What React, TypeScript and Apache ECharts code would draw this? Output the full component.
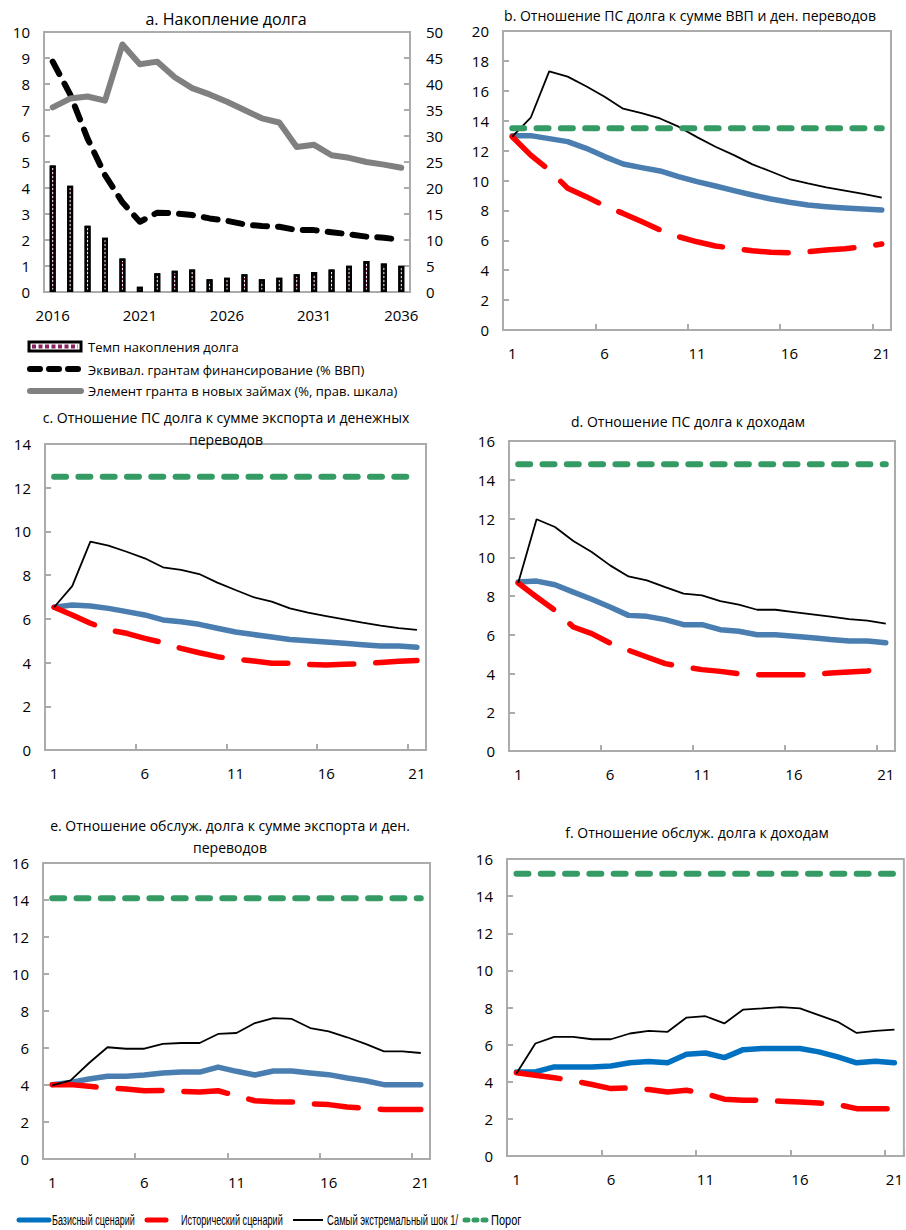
import React, { useEffect, useRef } from 'react';
import * as echarts from 'echarts';

// ---------- data ----------
const years = ['2016','2017','2018','2019','2020','2021','2022','2023','2024','2025','2026','2027','2028','2029','2030','2031','2032','2033','2034','2035','2036'];
const periods = ['1','2','3','4','5','6','7','8','9','10','11','12','13','14','15','16','17','18','19','20','21'];

// panel a
const debtAccumRate = [4.87, 4.09, 2.55, 2.09, 1.29, 0.2, 0.72, 0.82, 0.87, 0.49, 0.55, 0.68, 0.49, 0.55, 0.68, 0.77, 0.87, 1.01, 1.19, 1.1, 1.01];
const grantEquivFinancing = [8.86, 7.6, 5.9, 4.5, 3.45, 2.7, 3.05, 3.03, 2.96, 2.83, 2.74, 2.6, 2.54, 2.51, 2.38, 2.38, 2.3, 2.22, 2.13, 2.09, 2.0];
const grantElement = [35.5, 37.2, 37.6, 36.8, 47.6, 43.8, 44.3, 41.3, 39.2, 38.0, 36.6, 35.0, 33.4, 32.6, 27.9, 28.3, 26.3, 25.8, 25.0, 24.5, 23.9];

// panel b
const bBase = [13.0, 13.0, 12.8, 12.6, 12.15, 11.6, 11.1, 10.86, 10.64, 10.26, 9.92, 9.63, 9.32, 9.03, 8.76, 8.54, 8.36, 8.25, 8.16, 8.09, 8.03];
const bHist = [12.93, 11.7, 10.7, 9.48, 8.92, 8.3, 7.8, 7.25, 6.69, 6.24, 5.9, 5.62, 5.46, 5.3, 5.2, 5.17, 5.24, 5.35, 5.44, 5.57, 5.75];
const bShock = [12.93, 14.2, 17.3, 16.95, 16.3, 15.6, 14.8, 14.5, 14.15, 13.6, 12.9, 12.26, 11.7, 11.08, 10.6, 10.1, 9.8, 9.54, 9.32, 9.1, 8.85];
const bThreshold = 13.5;

// panel c
const cBase = [6.53, 6.63, 6.59, 6.48, 6.33, 6.18, 5.95, 5.87, 5.75, 5.57, 5.4, 5.28, 5.17, 5.06, 5.0, 4.94, 4.88, 4.82, 4.76, 4.76, 4.7];
const cHist = [6.53, 6.18, 5.8, 5.49, 5.34, 5.11, 4.91, 4.65, 4.45, 4.27, 4.15, 4.07, 3.97, 3.97, 3.92, 3.89, 3.92, 3.95, 4.0, 4.06, 4.1];
const cShock = [6.53, 7.5, 9.53, 9.35, 9.07, 8.77, 8.36, 8.24, 8.05, 7.66, 7.32, 6.99, 6.79, 6.48, 6.28, 6.13, 5.98, 5.83, 5.69, 5.58, 5.5];
const cThreshold = 12.5;

// panel d
const dBase = [8.72, 8.77, 8.58, 8.2, 7.83, 7.43, 7.0, 6.95, 6.78, 6.52, 6.52, 6.26, 6.18, 6.0, 6.0, 5.92, 5.85, 5.75, 5.68, 5.68, 5.59];
const dHist = [8.67, 7.95, 7.26, 6.4, 6.06, 5.57, 5.2, 4.85, 4.51, 4.34, 4.2, 4.11, 3.99, 3.94, 3.94, 3.94, 3.94, 4.03, 4.08, 4.13, 4.23];
const dShock = [8.67, 11.96, 11.56, 10.84, 10.27, 9.58, 9.01, 8.81, 8.46, 8.12, 8.03, 7.74, 7.55, 7.29, 7.29, 7.17, 7.05, 6.93, 6.81, 6.73, 6.57];
const dThreshold = 14.8;

// panel e
const eBase = [4.02, 4.14, 4.32, 4.47, 4.47, 4.54, 4.65, 4.7, 4.7, 4.97, 4.74, 4.54, 4.76, 4.76, 4.65, 4.56, 4.38, 4.23, 4.02, 4.02, 4.02];
const eHist = [4.02, 4.02, 3.93, 3.84, 3.78, 3.69, 3.71, 3.66, 3.62, 3.69, 3.42, 3.15, 3.1, 3.08, 2.99, 2.94, 2.81, 2.74, 2.67, 2.67, 2.67];
const eShock = [3.98, 4.25, 5.19, 6.04, 5.96, 5.96, 6.22, 6.27, 6.27, 6.76, 6.81, 7.35, 7.62, 7.57, 7.08, 6.9, 6.58, 6.22, 5.82, 5.82, 5.73];
const eThreshold = 14.1;

// panel f
const fBase = [4.53, 4.53, 4.8, 4.8, 4.8, 4.85, 5.02, 5.09, 5.02, 5.48, 5.55, 5.3, 5.73, 5.79, 5.79, 5.79, 5.61, 5.34, 5.02, 5.11, 5.02];
const fHist = [4.48, 4.35, 4.22, 4.05, 3.85, 3.63, 3.67, 3.58, 3.45, 3.54, 3.36, 3.06, 3.0, 3.0, 2.95, 2.91, 2.86, 2.77, 2.55, 2.55, 2.55];
const fShock = [4.44, 6.06, 6.42, 6.42, 6.29, 6.29, 6.6, 6.74, 6.69, 7.46, 7.53, 7.14, 7.89, 7.95, 8.02, 7.95, 7.59, 7.23, 6.63, 6.74, 6.81];
const fThreshold = 15.2;

const titles = {
  a: 'а. Накопление долга',
  b: 'b. Отношение ПС долга к сумме ВВП и ден. переводов',
  c1: 'c. Отношение ПС долга к сумме экспорта и денежных',
  c2: 'переводов',
  d: 'd. Отношение ПС долга к доходам',
  e1: 'e. Отношение обслуж. долга к сумме экспорта и ден.',
  e2: 'переводов',
  f: 'f. Отношение обслуж. долга к доходам',
};
const legendA = ['Темп накопления долга', 'Эквивал. грантам финансирование (% ВВП)', 'Элемент гранта в новых займах (%, прав. шкала)'];
const legendMain = ['Базисный сценарий', 'Исторический сценарий', 'Самый экстремальный шок 1/', 'Порог'];

// ---------- styles ----------
const FONT = "'Open Sans', 'Noto Sans', sans-serif";
const BORDER = '#ABABAB';
const BLUE_SOFT = '#4A7EB1';
const BLUE = '#0070C0';
const RED = '#FF0000';
const GREEN = '#359B65';
const GRAY = '#808080';
const MAROON = '#8B2060';

const grids = [
  { left: 44, top: 32, width: 366, height: 260 },
  { left: 503, top: 31, width: 388, height: 299 },
  { left: 45, top: 444, width: 381, height: 306 },
  { left: 509, top: 441, width: 386, height: 310 },
  { left: 43, top: 863, width: 387, height: 296 },
  { left: 507, top: 859, width: 397, height: 297 },
];

function catAxis(gridIndex: number, data: string[], showTicks: boolean) {
  return {
    type: 'category',
    gridIndex,
    data,
    boundaryGap: true,
    axisLine: { lineStyle: { color: BORDER, width: 2 } },
    axisTick: { show: showTicks, inside: true, interval: 4, length: 6, lineStyle: { color: BORDER, width: 2 } },
    axisLabel: { interval: 4, color: '#000', fontSize: 15, fontFamily: FONT, margin: 15 },
    splitLine: { show: false },
  };
}

function valAxis(gridIndex: number, max: number, interval: number, position = 'left') {
  return {
    type: 'value',
    gridIndex,
    min: 0,
    max,
    interval,
    position,
    axisLine: { show: true, lineStyle: { color: BORDER, width: 2 } },
    axisTick: { show: true, inside: true, length: 6, lineStyle: { color: BORDER, width: 2 } },
    axisLabel: { color: '#000', fontSize: 15, fontFamily: FONT, margin: 14 },
    splitLine: { show: false },
  };
}

function scenarioSeries(idx: number, base: number[], hist: number[], shock: number[], thr: number, blue: string) {
  const thrArr = periods.map(() => thr);
  return [
    { type: 'line', name: legendMain[0], xAxisIndex: idx, yAxisIndex: idx + 1, data: base, symbol: 'none',
      lineStyle: { color: blue, width: 5.5, cap: 'round', join: 'round' } },
    { type: 'line', name: legendMain[1], xAxisIndex: idx, yAxisIndex: idx + 1, data: hist, symbol: 'none',
      lineStyle: { color: RED, width: 5.5, type: [44, 22], cap: 'round', join: 'round' } },
    { type: 'line', name: legendMain[2], xAxisIndex: idx, yAxisIndex: idx + 1, data: shock, symbol: 'none',
      lineStyle: { color: '#000', width: 1.8 } },
    { type: 'line', name: legendMain[3], xAxisIndex: idx, yAxisIndex: idx + 1, data: thrArr, symbol: 'none',
      lineStyle: { color: GREEN, width: 6, type: [12, 12.3], cap: 'round' } },
  ];
}

function txt(text: string, x: number, y: number, size: number, align = 'center', family = FONT, scaleX = 1) {
  return { type: 'text', x, y, scaleX, silent: true,
    style: { text, fill: '#000', font: `${size}px ${family}`, align, verticalAlign: 'middle' } };
}

export default function App() {
  const ref = useRef<HTMLDivElement>(null);
  useEffect(() => {
    if (!ref.current) return;
    const chart = echarts.init(ref.current, undefined, { renderer: 'svg' });
    const legFont = "'Liberation Sans', Arial, sans-serif";
    const option: any = {
      animation: false,
      backgroundColor: '#fff',
      grid: grids.map((g) => ({ ...g, show: true, borderColor: BORDER, borderWidth: 2, containLabel: false })),
      xAxis: [
        catAxis(0, years, false),
        catAxis(1, periods, true),
        catAxis(2, periods, true),
        catAxis(3, periods, true),
        catAxis(4, periods, true),
        catAxis(5, periods, true),
      ],
      yAxis: [
        valAxis(0, 10, 1),
        { ...valAxis(0, 50, 5, 'right'), axisLabel: { color: '#000', fontSize: 15, fontFamily: FONT, margin: 16 } },
        valAxis(1, 20, 2),
        valAxis(2, 14, 2),
        valAxis(3, 16, 2),
        valAxis(4, 16, 2),
        valAxis(5, 16, 2),
      ],
      series: [
        { type: 'bar', name: legendA[0], xAxisIndex: 0, yAxisIndex: 0, data: debtAccumRate, barWidth: 6,
          itemStyle: { color: MAROON, borderColor: '#000', borderWidth: 2.5,
            decal: { symbol: 'rect', symbolSize: 1, color: '#ffffff', dashArrayX: [1, 0], dashArrayY: [2, 2], rotation: 0 } } },
        { type: 'line', name: legendA[1], xAxisIndex: 0, yAxisIndex: 0, data: grantEquivFinancing, symbol: 'none',
          lineStyle: { color: '#000', width: 6, type: [14, 11], cap: 'round', join: 'round' } },
        { type: 'line', name: legendA[2], xAxisIndex: 0, yAxisIndex: 1, data: grantElement, symbol: 'none',
          lineStyle: { color: GRAY, width: 6, cap: 'round', join: 'round' } },
        ...scenarioSeries(1, bBase, bHist, bShock, bThreshold, BLUE_SOFT),
        ...scenarioSeries(2, cBase, cHist, cShock, cThreshold, BLUE_SOFT),
        ...scenarioSeries(3, dBase, dHist, dShock, dThreshold, BLUE_SOFT),
        ...scenarioSeries(4, eBase, eHist, eShock, eThreshold, BLUE_SOFT),
        ...scenarioSeries(5, fBase, fHist, fShock, fThreshold, BLUE),
      ],
      graphic: [
        txt(titles.a, 226, 19, 16),
        txt(titles.b, 690, 15, 14),
        txt(titles.c1, 226, 417, 14),
        txt(titles.c2, 226, 439, 14),
        txt(titles.d, 688, 421, 14),
        txt(titles.e1, 230, 825, 14),
        txt(titles.e2, 230, 847, 14),
        txt(titles.f, 697, 832, 14),
        // legend a
        { type: 'rect', shape: { x: 29, y: 342, width: 52, height: 9 }, style: { fill: '#fff', stroke: '#000', lineWidth: 3 } },
        { type: 'line', shape: { x1: 32, y1: 346.5, x2: 78, y2: 346.5 }, style: { stroke: MAROON, lineWidth: 4, lineDash: [4, 2.5] } },
        txt(legendA[0], 88, 347, 13, 'left'),
        { type: 'line', shape: { x1: 30, y1: 369, x2: 80, y2: 369 }, style: { stroke: '#000', lineWidth: 6, lineCap: 'round', lineDash: [10, 9] } },
        txt(legendA[1], 88, 370, 13, 'left'),
        { type: 'line', shape: { x1: 30, y1: 391, x2: 81, y2: 391 }, style: { stroke: GRAY, lineWidth: 6, lineCap: 'round' } },
        txt(legendA[2], 88, 391, 13, 'left'),
        // main legend
        { type: 'line', shape: { x1: 19, y1: 1220, x2: 49, y2: 1220 }, style: { stroke: BLUE, lineWidth: 5, lineCap: 'round' } },
        txt(legendMain[0], 52, 1220, 14.5, 'left', legFont, 0.62),
        { type: 'line', shape: { x1: 147, y1: 1220, x2: 166, y2: 1220 }, style: { stroke: RED, lineWidth: 5, lineCap: 'round' } },
        txt(legendMain[1], 181, 1220, 14.5, 'left', legFont, 0.63),
        { type: 'line', shape: { x1: 293, y1: 1220, x2: 323, y2: 1220 }, style: { stroke: '#000', lineWidth: 2 } },
        txt(legendMain[2], 327, 1220, 14.5, 'left', legFont, 0.65),
        { type: 'line', shape: { x1: 465, y1: 1220, x2: 486, y2: 1220 }, style: { stroke: GREEN, lineWidth: 5, lineCap: 'round', lineDash: [3, 6] } },
        txt(legendMain[3], 491, 1220, 14.5, 'left', legFont, 0.76),
      ],
    };
    chart.setOption(option);
    return () => chart.dispose();
  }, []);
  return <div ref={ref} style={{ position: 'absolute', left: 0, top: 0, width: 906, height: 1230 }} />;
}
